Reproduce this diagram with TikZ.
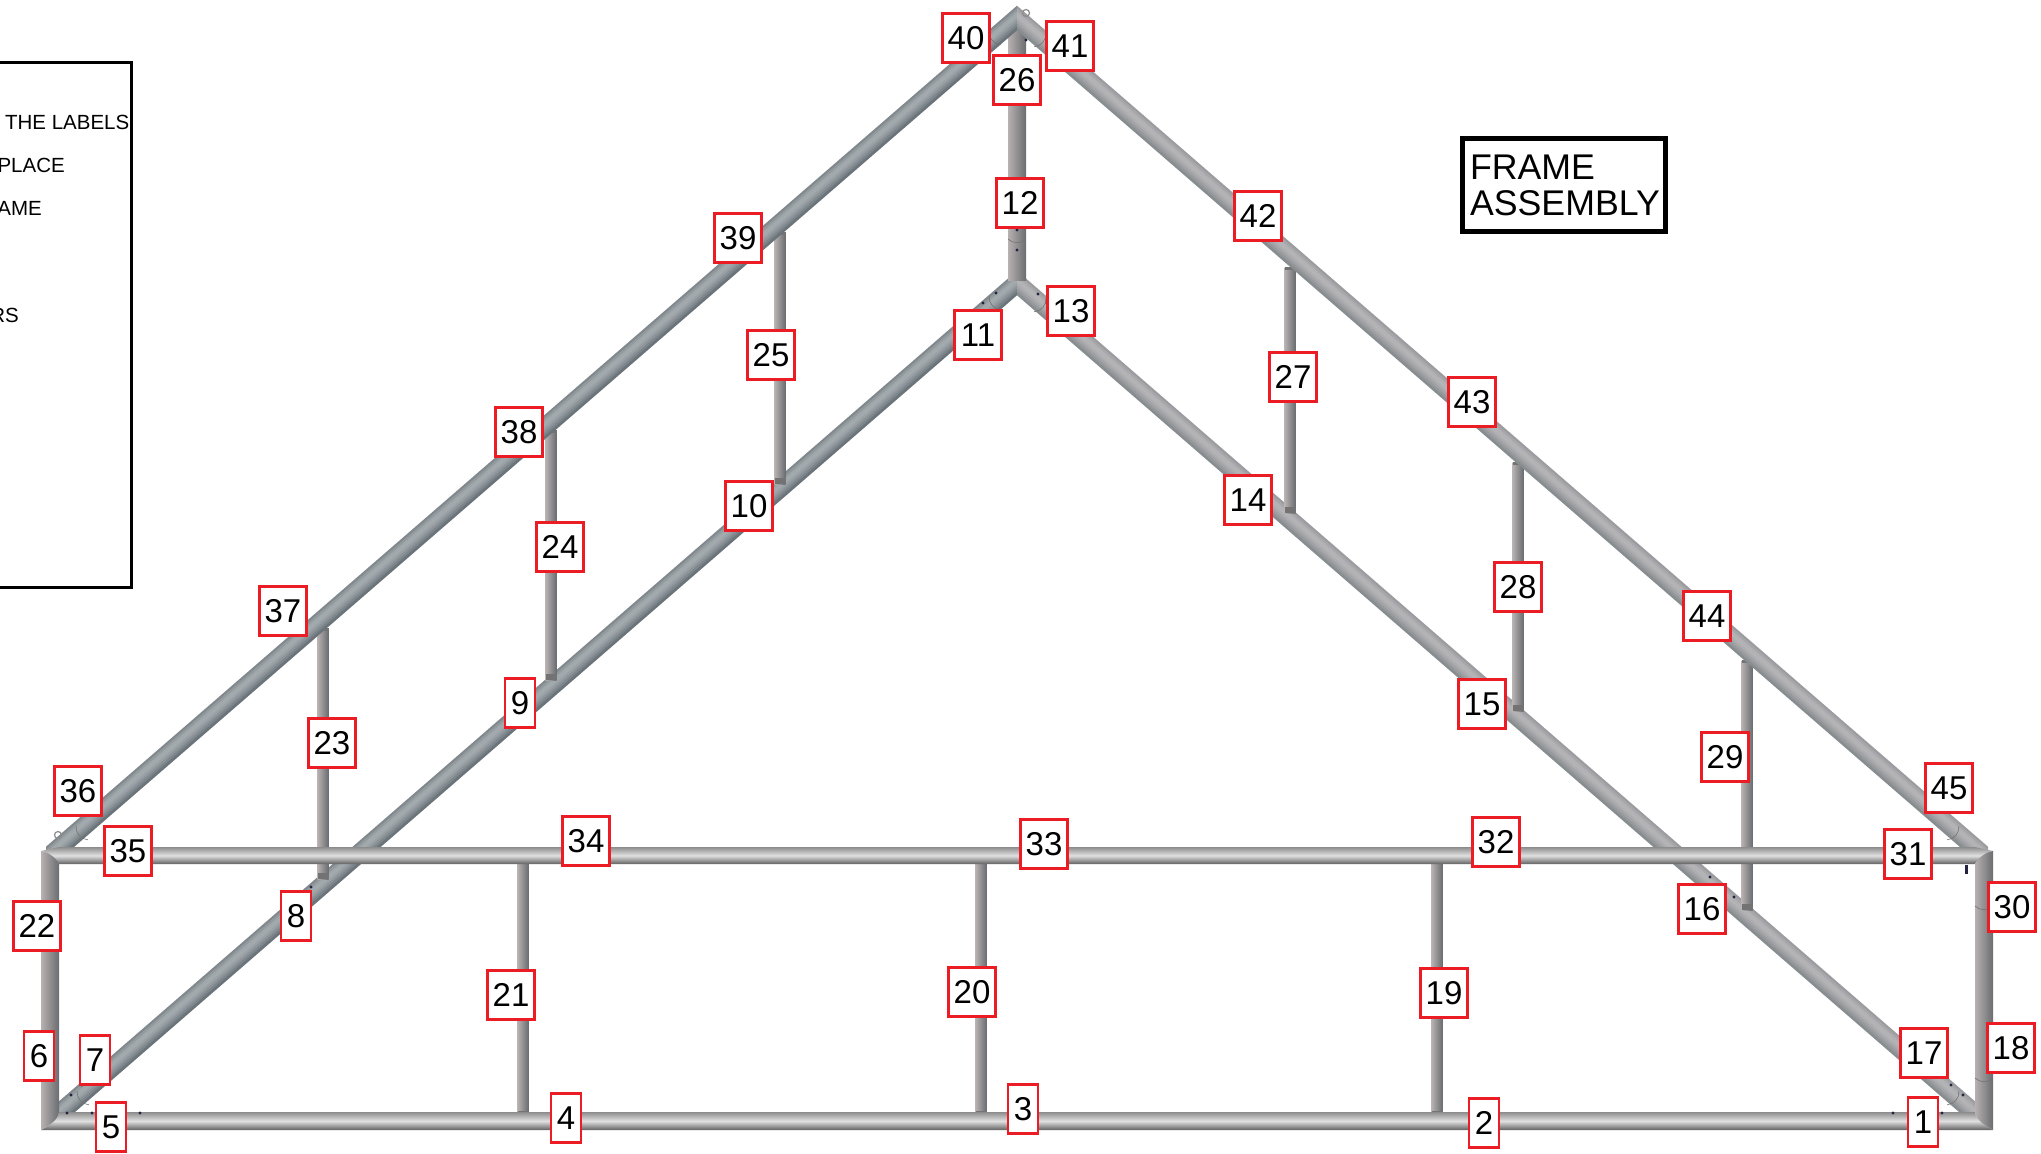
\documentclass[tikz,border=0pt]{standalone}
\usepackage{fontspec}
\setmainfont{Liberation Sans}
\usepackage{tikz}
\definecolor{partred}{HTML}{EC1C24}
\definecolor{leftlight}{HTML}{A6ADB1}
\definecolor{leftdark}{HTML}{626C72}
\definecolor{rightlight}{HTML}{B6B5B8}
\definecolor{rightdark}{HTML}{82878B}
\definecolor{holeblue}{HTML}{23233F}
\definecolor{postlight}{HTML}{B8B1B1}
\definecolor{postmid}{HTML}{A19D9F}
\definecolor{postdark}{HTML}{696C70}
\tikzset{
  partbox/.style={draw=partred,fill=white,line width=2.4pt,inner sep=0pt,
    minimum width=47pt,minimum height=49pt,font=\fontsize{33}{33}\selectfont},
  partsmall/.style={partbox,minimum width=30pt},
  legendline/.style={anchor=east,inner sep=0pt,font=\fontsize{20.5}{21}\selectfont},
  hortube/.style={top color=#1,bottom color=black!62,middle color=black!12},
  vertube/.style={left color=postlight,middle color=postmid,right color=postdark},
  seamline/.style={draw=black!55,line width=0.6pt},
  hole/.style={fill=holeblue,draw=none}
}
% one leg of a rafter, cut straight at both ends
\newcommand{\rafterleg}[6]{
  \foreach \off/\pct in {-10.5/55,-7.5/30,-4.5/8,-1.5/5,1.5/18,4.5/38,7.5/62,10.5/88}
    \fill[#6!\pct!#5] (#1,#2+\off-1.8) -- (#3,#4+\off-1.8) -- (#3,#4+\off+1.8) -- (#1,#2+\off+1.8) -- cycle;
}
% thin upright between the rafters or the frame rails
\newcommand{\post}[3]{
  \shade[vertube] (#1-5.5,#2) rectangle (#1+5.5,#3);
  \fill[black!55] (#1-5.5,#2) rectangle (#1+5.5,#2+3);
  \fill[black!55] (#1-5.5,#3-6) rectangle (#1+5.5,#3);
}
\newcommand{\seam}[3]{
  \draw[seamline,shift={(#1,#2)},rotate=#3] (-9,0) to[bend left=45] (9,0);
}
\begin{document}
\begin{tikzpicture}[x=1pt,y=-1pt]
\useasboundingbox (0,0) rectangle (2041,1153);

% lower rafters
\rafterleg{59}{1113.6}{1017}{283}{leftlight}{leftdark}
\rafterleg{1975}{1113.6}{1017}{283}{rightlight}{rightdark}

% uprights
\post{323}{628}{879}
\post{551}{430}{680}
\post{780}{232}{484}
\post{1290}{267}{513}
\post{1518}{462}{711}
\post{1747}{660}{910}
\post{523}{860}{1117}
\post{981}{860}{1117}
\post{1437}{860}{1117}

% upper rafters and king post
\shade[vertube] (1008,20) rectangle (1026,280);
\rafterleg{46}{859}{1017}{18}{leftlight}{leftdark}
\rafterleg{1988}{859}{1017}{18}{rightlight}{rightdark}

% frame rails
\shade[hortube=black!45] (41,851) .. controls (48,852) and (56,858) .. (59,864) -- (1975,864)
  .. controls (1978,858) and (1986,852) .. (1993,851) -- (1975,847) -- (59,847) -- cycle;
\shade[hortube=black!45] (41,1130) .. controls (50,1125) and (58,1120) .. (59,1112) -- (1975,1112)
  .. controls (1976,1120) and (1984,1125) .. (1993,1130) -- cycle;
\shade[vertube] (41,851) .. controls (48,852) and (56,858) .. (59,864) -- (59,1112)
  .. controls (58,1120) and (50,1125) .. (41,1130) -- cycle;
\shade[vertube] (1993,851) .. controls (1986,852) and (1978,858) .. (1975,864) -- (1975,1112)
  .. controls (1976,1120) and (1984,1125) .. (1993,1130) -- cycle;

% sleeve seams
\seam{995}{38}{131}
\seam{1040}{40}{229}
\seam{995}{303}{131}
\seam{1040}{305}{229}
\seam{82}{833}{131}
\seam{83}{1098}{131}
\seam{1953}{833}{229}
\seam{1953}{1098}{229}
\seam{1017}{239}{180}
\seam{1984}{906}{180}
\seam{1984}{1078}{180}

% holes and eye bolts
\foreach \hx/\hy in {71/1095,82/1085,92/1113,140/1113,67/1113,1026/40,1017/230,1017/250,
  996/293,983/303,1038/294,1047/303,1951/1085,1963/1095,1942/1113,1893/1113,311/887,1734/897,1710/877}
  \fill[hole] (\hx,\hy) circle (1.7);
\fill[hole] (1964.5,865) rectangle (1968,874);
\draw[black!45,line width=1.2pt] (1026,13) circle (3.5);
\draw[black!45,line width=1.2pt] (58,835) circle (3.5);

% legend, running off the left edge
\draw[line width=3.5pt] (-10,62.5) -- (131.5,62.5) -- (131.5,587.5) -- (-10,587.5);
\node[legendline] (legendone) at (129.5,122) {THE LABELS};
\node[legendline] (legendtwo) at (65,165) {PLACE};
\node[legendline] (legendthree) at (42,208) {AME};
\node[legendline] (legendfour) at (19,315) {RS};

% title
\node[draw,line width=5pt,minimum width=203pt,minimum height=93pt,inner sep=0pt,
  text width=188pt,align=left,font=\fontsize{35.7}{36}\selectfont] (title) at (1564,185) {FRAME\\ASSEMBLY};

% part numbers
\node[partsmall] (p1) at (1923,1122) {1};
\node[partsmall] (p2) at (1484,1123) {2};
\node[partsmall] (p3) at (1023,1109) {3};
\node[partsmall] (p4) at (566,1118) {4};
\node[partsmall] (p5) at (111,1127) {5};
\node[partsmall] (p6) at (39,1056) {6};
\node[partsmall] (p7) at (95,1060) {7};
\node[partsmall] (p8) at (296,916) {8};
\node[partsmall] (p9) at (520,703) {9};
\node[partbox] (p10) at (749,506) {10};
\node[partbox] (p11) at (978,335) {11};
\node[partbox] (p12) at (1020,203) {12};
\node[partbox] (p13) at (1071,311) {13};
\node[partbox] (p14) at (1248,500) {14};
\node[partbox] (p15) at (1482,704) {15};
\node[partbox] (p16) at (1702,909) {16};
\node[partbox] (p17) at (1924,1053) {17};
\node[partbox] (p18) at (2011,1048) {18};
\node[partbox] (p19) at (1444,993) {19};
\node[partbox] (p20) at (972,992) {20};
\node[partbox] (p21) at (511,995) {21};
\node[partbox] (p22) at (37,926) {22};
\node[partbox] (p23) at (332,743) {23};
\node[partbox] (p24) at (560,547) {24};
\node[partbox] (p25) at (771,355) {25};
\node[partbox] (p26) at (1017,80) {26};
\node[partbox] (p27) at (1293,377) {27};
\node[partbox] (p28) at (1518,587) {28};
\node[partbox] (p29) at (1725,757) {29};
\node[partbox] (p30) at (2012,907) {30};
\node[partbox] (p31) at (1908,854) {31};
\node[partbox] (p32) at (1496,842) {32};
\node[partbox] (p33) at (1044,844) {33};
\node[partbox] (p34) at (586,841) {34};
\node[partbox] (p35) at (128,851) {35};
\node[partbox] (p36) at (78,791) {36};
\node[partbox] (p37) at (283,611) {37};
\node[partbox] (p38) at (519,432) {38};
\node[partbox] (p39) at (738,238) {39};
\node[partbox] (p40) at (966,38) {40};
\node[partbox] (p41) at (1070,46) {41};
\node[partbox] (p42) at (1258,216) {42};
\node[partbox] (p43) at (1472,402) {43};
\node[partbox] (p44) at (1707,616) {44};
\node[partbox] (p45) at (1949,788) {45};
\end{tikzpicture}
\end{document}
